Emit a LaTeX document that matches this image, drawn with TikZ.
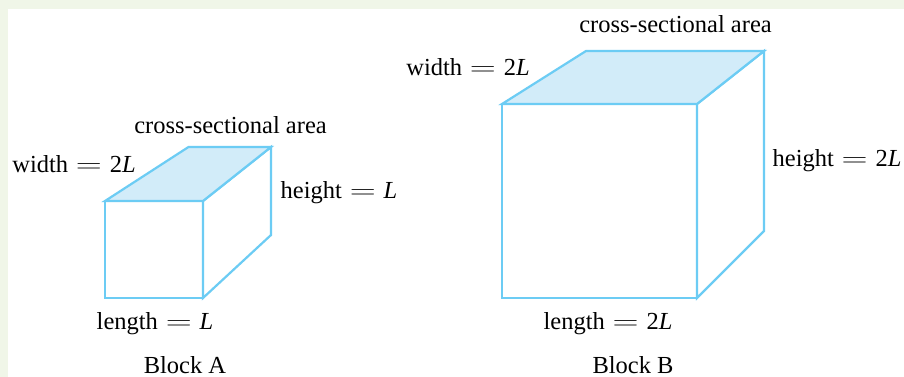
\documentclass[tikz,border=0pt]{standalone}
\usepackage{fontspec}
\usepackage{graphicx}
\setmainfont{Liberation Serif}
\definecolor{edge}{RGB}{108,204,244}
\definecolor{topfill}{RGB}{210,236,249}
\definecolor{band}{RGB}{240,246,232}
\newcommand{\eqsign}{\hspace{0.32em}\scalebox{1.45}[1]{$=$}\hspace{0.32em}}
\tikzset{
  face/.style={draw=edge, line width=2.2pt, line join=miter, fill=white},
  topface/.style={face, fill=topfill},
  lbl/.style={inner sep=0pt, anchor=base, font=\fontsize{24.5}{29}\selectfont}
}
\begin{document}
\begin{tikzpicture}[x=1pt,y=-1pt]
\useasboundingbox (0,0) rectangle (904,377);
\fill[band] (0,0) rectangle (904,377);
\fill[white] (8,9) rectangle (904,377);
% Block A
\coordinate (a1) at (105,201); \coordinate (a2) at (203,201);
\coordinate (a3) at (271,147); \coordinate (a4) at (188.5,147);
\coordinate (a5) at (105,298); \coordinate (a6) at (203,298);
\coordinate (a7) at (271,235);
\draw[face] (a1) rectangle (a6);
\draw[face] (a2) -- (a3) -- (a7) -- (a6) -- cycle;
\draw[topface] (a1) -- (a4) -- (a3) -- (a2) -- cycle;
% Block B
\coordinate (b1) at (502,104); \coordinate (b2) at (697,104);
\coordinate (b3) at (764,51); \coordinate (b4) at (586,51);
\coordinate (b5) at (502,298); \coordinate (b6) at (697,298);
\coordinate (b7) at (764,231);
\draw[face] (b1) rectangle (b6);
\draw[face] (b2) -- (b3) -- (b7) -- (b6) -- cycle;
\draw[topface] (b1) -- (b4) -- (b3) -- (b2) -- cycle;
% Labels A
\node[lbl] (acs) at (230.5,133) {cross-sectional area};
\node[lbl] (aw) at (74,172) {width\eqsign 2\textit{L}};
\node[lbl] (ah) at (339,198) {height\eqsign\textit{L}};
\node[lbl] (al) at (155,329) {length\eqsign\textit{L}};
\node[lbl] (an) at (185,373) {Block A};
% Labels B
\node[lbl] (bcs) at (675.5,33) {cross-sectional area};
\node[lbl] (bw) at (468,76) {width\eqsign 2\textit{L}};
\node[lbl] (bh) at (837,166) {height\eqsign 2\textit{L}};
\node[lbl] (bl) at (608,329) {length\eqsign 2\textit{L}};
\node[lbl] (bn) at (633,373) {Block B};
\end{tikzpicture}
\end{document}
